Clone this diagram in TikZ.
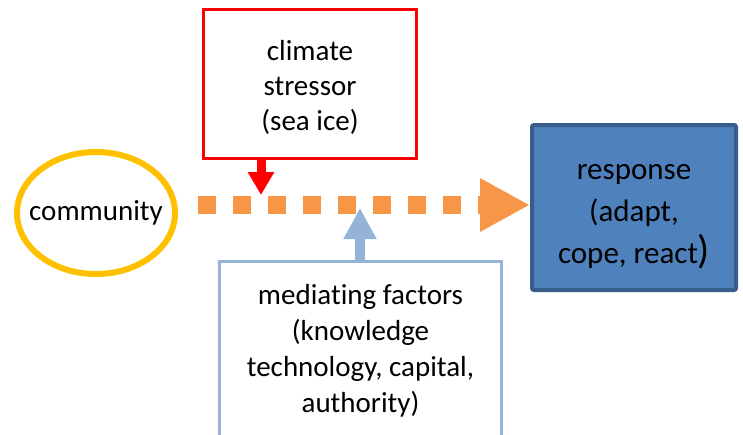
\documentclass[tikz,border=0pt]{standalone}
\usepackage{fontspec}
\setmainfont{Carlito}[Ligatures={NoCommon}]
\usetikzlibrary{arrows.meta,shapes.geometric,calc}
\definecolor{orangeA}{HTML}{F79646}
\definecolor{goldA}{HTML}{FFC000}
\definecolor{blueA}{HTML}{4F81BD}
\definecolor{blueB}{HTML}{385D8A}
\definecolor{blueL}{HTML}{95B3D7}
\tikzset{
  txt/.style={font=\fontsize{29}{35}\selectfont, align=center, text=black},
  redbox/.style={txt, draw=red, line width=3pt, minimum width=213pt, minimum height=149pt, inner sep=0pt},
  medbox/.style={font=\fontsize{29}{36}\selectfont, align=center, draw=blueL, line width=3pt, minimum width=282pt, minimum height=179pt, inner sep=0pt},
  respbox/.style={font=\fontsize{31}{42}\selectfont, align=center, draw=blueB, fill=blueA, line width=4pt, rounded corners=2pt, minimum width=204pt, minimum height=165pt, inner sep=0pt},
  commell/.style={txt, ellipse, draw=goldA, line width=6pt, minimum width=158pt, minimum height=122pt, inner sep=0pt},
  dotarrow/.style={orangeA, line width=18pt, dash pattern=on 18pt off 17pt, -{Triangle[length=50pt,width=50pt]}},
  redarrow/.style={red, line width=9pt, -{Triangle[length=23pt,width=25pt]}},
  bluearrow/.style={blueL, line width=10pt, -{Triangle[length=31pt,width=31pt]}}
}
\begin{document}
\begin{tikzpicture}[x=1pt,y=1pt]
\useasboundingbox (0,0) rectangle (743,-434);
\clip (0,0) rectangle (743,-434);
\node[commell] (comm) at (96,-213) {\makebox[0pt]{community}};
\node[redbox] (stress) at (310,-84) {\rule{0pt}{27pt}climate\\stressor\\(sea ice)};
\node[respbox] (resp) at (634,-207.5) {\rule{0pt}{33pt}response\\(adapt,\\cope, react{\fontsize{40}{42}\selectfont)}};
\node[medbox, anchor=north] (med) at (360.5,-259.5) {mediating factors\\(knowledge\\technology, capital,\\authority)};
\coordinate (dotstart) at (198,-205);
\draw[dotarrow] (dotstart) -- (resp.west |- dotstart);
\coordinate (rtip) at (261,-195);
\draw[redarrow] (stress.south -| rtip) -- (rtip);
\coordinate (btip) at (360,-208);
\draw[bluearrow] (med.north -| btip) -- (btip);
\end{tikzpicture}
\end{document}
